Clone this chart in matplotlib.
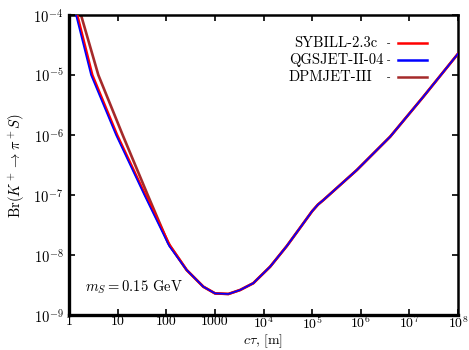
import numpy as np
import matplotlib
matplotlib.use('Agg')
import matplotlib.pyplot as plt
from matplotlib.ticker import FixedLocator, FixedFormatter

plt.rcParams['font.family'] = ['cmr10', 'DejaVu Serif']
plt.rcParams['mathtext.fontset'] = 'cm'
plt.rcParams['axes.unicode_minus'] = False

# branching ratio limits vs decay length, one curve per hadronic model
ct_common = [263, 579, 1009, 1897, 3304, 6166, 1.368e4, 3.013e4, 5.62e4, 1e5,
             1.318e5, 1.71e5, 8.32e5, 4.03e6, 1.95e7, 1e8]
br_common = [5.62e-9, 2.96e-9, 2.29e-9, 2.24e-9, 2.61e-9, 3.39e-9, 6.38e-9, 1.41e-8,
             2.82e-8, 5.37e-8, 6.92e-8, 8.26e-8, 2.61e-7, 9.38e-7, 4.37e-6, 2.26e-5]

ct_sybill = [1.479, 3.02, 9.77, 37.2, 120] + ct_common
br_sybill = [1e-4, 1e-5, 1e-6, 1e-7, 1.41e-8] + br_common

ct_qgsjet = [1.393, 2.838, 9.27, 35.4, 114.8] + ct_common
br_qgsjet = [1e-4, 1e-5, 1e-6, 1e-7, 1.41e-8] + br_common

ct_dpmjet = [1.766, 4.01, 12.7, 41.6, 109.6] + ct_common
br_dpmjet = [1e-4, 1e-5, 1e-6, 1e-7, 1.58e-8] + br_common

labels = ['SYBILL-2.3c', 'QGSJET-II-04', 'DPMJET-III']
colors = ['#ff0000', '#0000ff', '#a52a2a']

xticks = [1, 10, 100, 1000, 1e4, 1e5, 1e6, 1e7, 1e8]
xticklabels = ['1', '10', '100', '1000', '$10^4$', '$10^5$', '$10^6$', '$10^7$', '$10^8$']
yticks = [1e-9, 1e-8, 1e-7, 1e-6, 1e-5, 1e-4]
yticklabels = ['$10^{-9}$', '$10^{-8}$', '$10^{-7}$', '$10^{-6}$', '$10^{-5}$', '$10^{-4}$']

fig = plt.figure(figsize=(4.69, 3.5), dpi=100)
ax = fig.add_axes([69 / 469, 35 / 350, 389 / 469, 300 / 350])

# brown underneath, blue on top
ax.plot(ct_dpmjet, br_dpmjet, color=colors[2], lw=1.9, zorder=2)
ax.plot(ct_sybill, br_sybill, color=colors[0], lw=1.8, zorder=3)
ax.plot(ct_qgsjet, br_qgsjet, color=colors[1], lw=1.2, zorder=4)

ax.set_xscale('log')
ax.set_yscale('log')
ax.set_xlim(1, 1e8)
ax.set_ylim(1e-9, 1e-4)

ax.xaxis.set_major_locator(FixedLocator(xticks))
ax.xaxis.set_major_formatter(FixedFormatter(xticklabels))
ax.yaxis.set_major_locator(FixedLocator(yticks))
ax.yaxis.set_major_formatter(FixedFormatter(yticklabels))
ax.minorticks_off()
ax.tick_params(which='major', direction='in', top=True, right=True,
               length=4, width=1.2, labelsize=10.5, pad=4)
ax.tick_params(axis='x', pad=0.5, labelsize=10)

for side in ['left', 'bottom']:
    ax.spines[side].set_linewidth(2.4)
for side in ['top', 'right']:
    ax.spines[side].set_linewidth(1.8)

ax.set_xlabel(r'$c\tau$, [m]', fontsize=10, va='bottom')
ax.xaxis.set_label_coords(0.5, -0.116)
ax.set_ylabel(r'Br$(K^+\to\pi^+ S)$', fontsize=10.5, labelpad=5)

ax.text(0.041, 0.093, r'$m_S = 0.15$ GeV', transform=ax.transAxes,
        fontsize=10.5, va='center', ha='left')

# key, gnuplot style
key_y = [0.907, 0.850, 0.793]
key_x = [0.580, 0.565, 0.565]
for lab, col, yk, xk in zip(labels, colors, key_y, key_x):
    ax.text(xk, yk, lab, transform=ax.transAxes, fontsize=10.5,
            va='center', ha='left')
    ax.text(0.823, yk, '-', transform=ax.transAxes, fontsize=8,
            va='center', ha='center')
    ax.plot([0.846, 0.920], [yk, yk], transform=ax.transAxes,
            color=col, lw=1.8, clip_on=False)

fig.savefig('out.png', dpi=100)
